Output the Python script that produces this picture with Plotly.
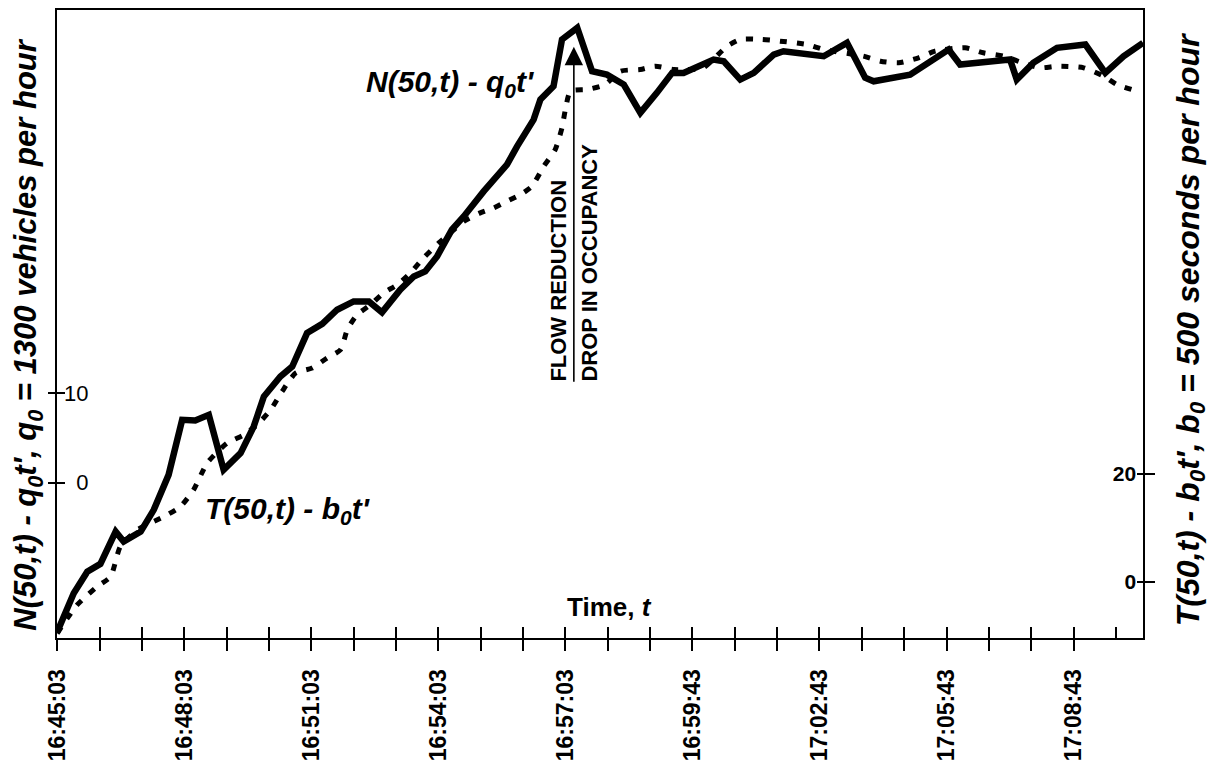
import plotly.graph_objects as go

# ---------------- data ----------------
# x: position on the time axis, in tick intervals (one tick = one minute) from 16:45:03
tick_labels = ["16:45:03", "", "", "16:48:03", "", "", "16:51:03", "", "", "16:54:03", "", "",
               "16:57:03", "", "", "16:59:43", "", "", "17:02:43", "", "", "17:05:43", "", "",
               "17:08:43", ""]

n_x = [0, 0.39, 0.71, 1.02, 1.38, 1.57, 1.97, 2.28, 2.63, 2.95,
       3.26, 3.58, 3.93, 4.33, 4.64, 4.88, 5.27, 5.55, 5.90, 6.26,
       6.61, 7.00, 7.36, 7.67, 8.10, 8.42, 8.69, 8.97, 9.32, 9.60,
       10.07, 10.62, 10.86, 11.25, 11.41, 11.72, 11.92, 12.28, 12.63, 12.98,
       13.38, 13.77, 14.16, 14.52, 14.79, 15.19, 15.50, 15.74, 16.13, 16.45,
       16.92, 17.15, 18.10, 18.65, 19.08, 19.28, 20.14, 21.05, 21.32, 22.50,
       22.66, 23.05, 23.61, 24.28, 24.75, 25.18, 25.64]
n_vals = [-16.7, -12.37, -9.96, -9.09, -5.48, -6.60, -5.48, -3.05, 0.86, 7.01,
          6.94, 7.57, 1.42, 3.29, 6.26, 9.62, 11.86, 12.98, 16.71, 17.75,
          19.32, 20.25, 20.25, 19.02, 21.55, 23.04, 23.60, 25.28, 28.27, 29.75,
          32.55, 35.54, 37.58, 40.57, 42.81, 44.30, 49.52, 50.83, 45.97, 45.60,
          44.49, 41.32, 43.56, 45.79, 45.79, 46.53, 47.28, 47.09, 45.04, 45.79,
          47.84, 48.21, 47.65, 49.15, 45.24, 44.85, 45.60, 48.40, 46.72, 47.28,
          45.04, 46.91, 48.59, 48.96, 45.79, 47.65, 49.15]

t_x = [0, 0.47, 0.94, 1.26, 1.49, 1.89, 2.52, 2.91, 3.22, 3.54,
       4.01, 4.41, 4.72, 5.04, 5.31, 5.63, 6.02, 6.37, 6.69, 6.85,
       7.08, 7.40, 7.71, 8.03, 8.34, 8.65, 9.01, 9.28, 9.60, 9.99,
       10.31, 10.62, 10.94, 11.21, 11.49, 11.76, 11.92, 12.00, 12.12, 12.51,
       12.94, 13.30, 13.77, 14.12, 14.56, 14.87, 15.26, 15.82, 16.13, 16.64,
       17.07, 17.71, 18.10, 19.04, 19.44, 19.87, 20.34, 20.73, 21.44, 21.87,
       22.35, 22.90, 23.21, 23.65, 24.24, 24.71, 25.02, 25.37]
t_vals = [-9.59, -4.33, -0.93, 0.93, 6.50, 9.60, 12.07, 13.93, 17.04, 22.00,
          25.71, 27.25, 29.11, 31.90, 35.30, 38.71, 39.64, 41.50, 43.04, 46.76,
          49.54, 51.40, 53.58, 55.12, 57.29, 60.08, 62.87, 64.72, 66.88, 68.44,
          69.37, 70.59, 71.84, 73.38, 77.09, 80.20, 84.23, 87.63, 91.03, 91.34,
          92.27, 94.74, 95.06, 95.67, 95.06, 95.06, 95.37, 99.39, 100.63, 100.63,
          100.32, 99.70, 98.77, 97.53, 96.60, 96.30, 97.23, 98.46, 99.09, 98.16,
          97.53, 95.99, 95.37, 95.67, 95.37, 93.81, 92.27, 91.34]

left_ticks = [0, 10]
right_ticks = [0, 20]

x_range = [-0.005, 25.64]
left_range = [-17.37, 52.82]
right_range = [-10.46, 106.1]

arrow_x = 12.2
arrow_tip = 48.7
arrow_tail = 11.1

# ---------------- figure ----------------
BLACK = "black"
SANS = "Liberation Sans, Arial, Helvetica, sans-serif"

fig = go.Figure()
fig.add_trace(go.Scatter(x=t_x, y=t_vals, mode="lines", xaxis="x", yaxis="y2",
                         line=dict(color=BLACK, width=5, dash="7px,10px", shape="spline", smoothing=0.6),
                         hoverinfo="skip", showlegend=False))
fig.add_trace(go.Scatter(x=n_x, y=n_vals, mode="lines", xaxis="x", yaxis="y",
                         line=dict(color=BLACK, width=6.5),
                         hoverinfo="skip", showlegend=False))
# empty traces so that the overlay axes (inner halves of the crossing ticks) are drawn
fig.add_trace(go.Scatter(x=[None], y=[None], xaxis="x2", yaxis="y", mode="lines",
                         hoverinfo="skip", showlegend=False))
fig.add_trace(go.Scatter(x=[None], y=[None], xaxis="x", yaxis="y3", mode="lines",
                         hoverinfo="skip", showlegend=False))
fig.add_trace(go.Scatter(x=[None], y=[None], xaxis="x", yaxis="y4", mode="lines",
                         hoverinfo="skip", showlegend=False))

tickvals_x = list(range(len(tick_labels)))

fig.update_layout(
    width=1211, height=763,
    margin=dict(l=57, r=68, t=10, b=125, autoexpand=False),
    paper_bgcolor="white", plot_bgcolor="white",
    font=dict(family=SANS, color=BLACK),
    showlegend=False,
    xaxis=dict(range=x_range, tickmode="array", tickvals=tickvals_x, ticktext=tick_labels,
               ticks="outside", ticklen=11, tickwidth=1.8, tickcolor=BLACK,
               tickangle=-90, tickfont=dict(family=SANS, size=23, color=BLACK, weight="bold"),
               ticklabelstandoff=9, ticklabeloverflow="allow", automargin=False,
               showline=True, linewidth=2, linecolor=BLACK, mirror=True,
               showgrid=False, zeroline=False, fixedrange=True),
    xaxis2=dict(range=x_range, overlaying="x", anchor="y", side="bottom",
                tickmode="array", tickvals=tickvals_x, showticklabels=False,
                ticks="inside", ticklen=11, tickwidth=1.8, tickcolor=BLACK, automargin=False,
                showline=False, showgrid=False, zeroline=False, fixedrange=True),
    # left tick labels sit inside the frame: outside labels pulled in with a negative standoff
    yaxis=dict(range=left_range, tickmode="array", tickvals=left_ticks,
               ticks="outside", ticklen=7, tickwidth=1.5, tickcolor=BLACK,
               ticklabelposition="outside", ticklabelstandoff=-45, automargin=False,
               tickfont=dict(family=SANS, size=22, color=BLACK),
               showline=True, linewidth=2, linecolor=BLACK,
               showgrid=False, zeroline=False, fixedrange=True),
    yaxis3=dict(range=left_range, overlaying="y", anchor="x", side="left",
                tickmode="array", tickvals=left_ticks, showticklabels=False,
                ticks="inside", ticklen=8, tickwidth=1.5, tickcolor=BLACK, automargin=False,
                showline=False, showgrid=False, zeroline=False, fixedrange=True),
    yaxis2=dict(range=right_range, overlaying="y", anchor="x", side="right",
                tickmode="array", tickvals=right_ticks,
                ticks="outside", ticklen=10, tickwidth=1.5, tickcolor=BLACK,
                ticklabelposition="inside", ticklabelstandoff=8, automargin=False,
                tickfont=dict(family=SANS, size=21, color=BLACK, weight="bold"),
                showline=True, linewidth=2, linecolor=BLACK,
                showgrid=False, zeroline=False, fixedrange=True),
    yaxis4=dict(range=right_range, overlaying="y", anchor="x", side="right",
                tickmode="array", tickvals=right_ticks, showticklabels=False,
                ticks="inside", ticklen=6, tickwidth=1.5, tickcolor=BLACK, automargin=False,
                showline=False, showgrid=False, zeroline=False, fixedrange=True),
)

ann_font_big = dict(family=SANS, size=30, color=BLACK)
annotations = [
    # vertical arrow marking the flow reduction
    dict(x=arrow_x, y=arrow_tip, ax=arrow_x, ay=arrow_tail, xref="x", yref="y",
         axref="x", ayref="y", showarrow=True, arrowhead=2, arrowsize=2.3,
         arrowwidth=1.6, arrowcolor=BLACK, text=""),
    dict(x=arrow_x, y=arrow_tail, xref="x", yref="y", showarrow=False,
         text="<b>FLOW REDUCTION</b>", textangle=-90, xanchor="right", yanchor="bottom",
         xshift=-1, font=dict(family=SANS, size=22, color=BLACK)),
    dict(x=arrow_x, y=arrow_tail, xref="x", yref="y", showarrow=False,
         text="<b>DROP IN OCCUPANCY</b>", textangle=-90, xanchor="left", yanchor="bottom",
         xshift=1, font=dict(family=SANS, size=22, color=BLACK)),
    # curve labels
    dict(x=9.28, y=44.6, xref="x", yref="y", showarrow=False,
         text="<b><i>N(50,t) - q<sub>0</sub>t'</i></b>", font=ann_font_big),
    dict(x=5.44, y=-3.17, xref="x", yref="y", showarrow=False,
         text="<b><i>T(50,t) - b<sub>0</sub>t'</i></b>", font=ann_font_big),
    # axis titles
    dict(x=-0.0267, y=0.483, xref="paper", yref="paper", showarrow=False,
         text="<b><i>N(50,t) - q<sub>0</sub>t', q<sub>0</sub> = 1300 vehicles per hour</i></b>",
         textangle=-90, xanchor="center", yanchor="middle", font=dict(family=SANS, size=31, color=BLACK)),
    dict(x=1.0433, y=0.49, xref="paper", yref="paper", showarrow=False,
         text="<b><i>T(50,t) - b<sub>0</sub>t', b<sub>0</sub> = 500 seconds per hour</i></b>",
         textangle=-90, xanchor="center", yanchor="middle", font=dict(family=SANS, size=32, color=BLACK)),
    dict(x=0.509, y=0.0494, xref="paper", yref="paper", showarrow=False,
         text="<b>Time, <i>t</i></b>", xanchor="center", yanchor="middle",
         font=dict(family=SANS, size=26, color=BLACK)),
]
fig.update_layout(annotations=annotations)

fig.write_html("out.html", config={"displayModeBar": False},
               post_script="document.body.style.margin='0';document.body.style.overflow='hidden';")
